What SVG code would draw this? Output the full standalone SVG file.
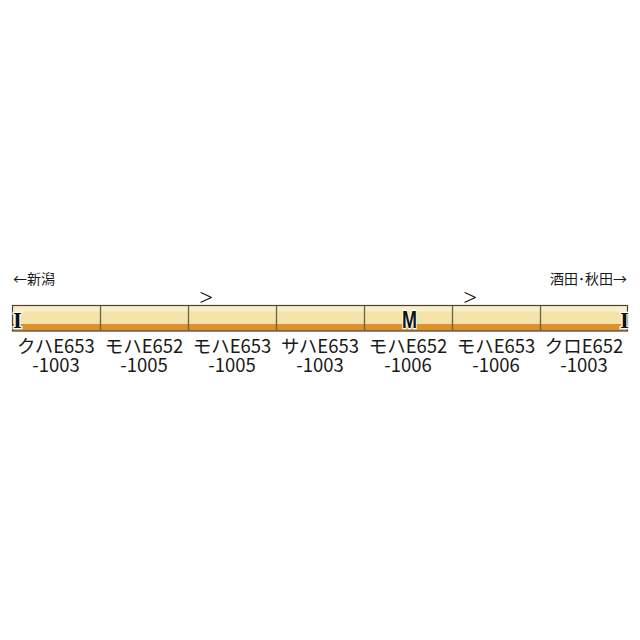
<svg xmlns="http://www.w3.org/2000/svg" width="640" height="640" viewBox="0 0 640 640">
<style>
.lbl{font-family:"Noto Sans CJK JP","Noto Sans",sans-serif;font-size:18.5px;fill:#1a1a1a;text-anchor:middle}
.top{font-family:"Noto Sans CJK JP","Noto Sans",sans-serif;font-size:14px;fill:#1a1a1a}
.mk{font-family:"Liberation Serif",serif;font-weight:bold;font-size:23px;fill:#111;stroke:#fff;stroke-width:2.5px;paint-order:stroke;text-anchor:middle}
.mm{font-family:"Liberation Sans",sans-serif;font-weight:bold;font-size:24px;fill:#111;stroke:#fff;stroke-width:2.5px;paint-order:stroke;text-anchor:middle}
.dir{font-family:"Noto Sans",sans-serif;font-weight:300;font-size:24px;fill:#1a1a1a;text-anchor:middle}
.div{stroke:#6b6040;stroke-width:1.3}
</style>
<rect width="640" height="640" fill="#ffffff"/>
<text class="top" x="13" y="284">←新潟</text>
<text class="top" x="627" y="284" text-anchor="end">酒田･秋田→</text>
<g id="train">
<rect x="12.5" y="305.5" width="615" height="25.5" fill="#f3e3a8"/>
<rect x="12.5" y="305.5" width="615" height="6" fill="#f8efc8"/>
<rect x="12.5" y="324" width="615" height="7" fill="#dc902e"/>
<rect x="12.5" y="305.5" width="615" height="25.5" fill="none" stroke="#4a4430" stroke-width="1.2"/>
</g>
<g id="connectors">
<line class="div" x1="100.5" y1="306" x2="100.5" y2="331"/>
<line class="div" x1="188.5" y1="306" x2="188.5" y2="331"/>
<line class="div" x1="276.5" y1="306" x2="276.5" y2="331"/>
<line class="div" x1="364.5" y1="306" x2="364.5" y2="331"/>
<line class="div" x1="452.5" y1="306" x2="452.5" y2="331"/>
<line class="div" x1="540.5" y1="306" x2="540.5" y2="331"/>
</g>
<g id="car1">
<text class="mk" x="17.5" y="328">I</text>
<text class="lbl" x="56" y="353">クハE653</text>
<text class="lbl" x="56" y="372">-1003</text>
</g>
<g id="car2">
<text class="lbl" x="144" y="353">モハE652</text>
<text class="lbl" x="144" y="372">-1005</text>
</g>
<g id="car3">
<text class="dir" x="206" y="306">&gt;</text>
<text class="lbl" x="232" y="353">モハE653</text>
<text class="lbl" x="232" y="372">-1005</text>
</g>
<g id="car4">
<text class="lbl" x="320" y="353">サハE653</text>
<text class="lbl" x="320" y="372">-1003</text>
</g>
<g id="car5">
<text class="mm" x="409.5" y="328" textLength="15" lengthAdjust="spacingAndGlyphs">M</text>
<text class="lbl" x="408" y="353">モハE652</text>
<text class="lbl" x="408" y="372">-1006</text>
</g>
<g id="car6">
<text class="dir" x="470" y="306">&gt;</text>
<text class="lbl" x="496" y="353">モハE653</text>
<text class="lbl" x="496" y="372">-1006</text>
</g>
<g id="car7">
<text class="mk" x="624.5" y="328">I</text>
<text class="lbl" x="584" y="353">クロE652</text>
<text class="lbl" x="584" y="372">-1003</text>
</g>
</svg>
